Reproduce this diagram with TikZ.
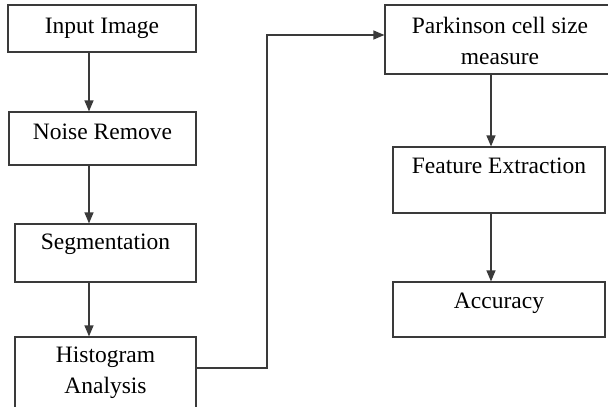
\documentclass[tikz,border=0pt]{standalone}
\usepackage{fontspec}
\setmainfont{Liberation Serif}
\usetikzlibrary{arrows.meta}
\definecolor{ln}{HTML}{3A3A3A}
\tikzset{
  box/.style={draw=ln, line width=1.2pt, rectangle, inner sep=0pt},
  lbl/.style={anchor=base, inner sep=0pt, text=black, font=\fontsize{23.5}{31}\selectfont},
  arr/.style={draw=ln, line width=1.2pt, -{Triangle[length=11pt,width=9pt]}},
}
\begin{document}
\begin{tikzpicture}[x=1pt,y=-1pt]
\useasboundingbox (0,0) rectangle (608,407);
\clip (0,0) rectangle (608,407);
\fill[white] (0,0) rectangle (608,407);
% boxes
\node[box, minimum width=188pt, minimum height=47pt] (b1) at (102,28.5) {};
\node[box, minimum width=187pt, minimum height=53pt] (b2) at (102.5,138.5) {};
\node[box, minimum width=181pt, minimum height=58pt] (b3) at (105.5,253) {};
\node[box, minimum width=181pt, minimum height=83pt] (b4) at (105.5,378.5) {};
\node[box, minimum width=235pt, minimum height=69pt] (b5) at (502.5,39.5) {};
\node[box, minimum width=212pt, minimum height=66pt] (b6) at (499,180) {};
\node[box, minimum width=212pt, minimum height=55pt] (b7) at (499,309.5) {};
% labels
\node[lbl] (t1) at (102,33) {Input Image};
\node[lbl] (t2) at (102.5,139) {Noise Remove};
\node[lbl] (t3) at (105.5,249) {Segmentation};
\node[lbl] (t4a) at (105.5,362) {Histogram};
\node[lbl] (t4b) at (105.5,393) {Analysis};
\node[lbl] (t5a) at (500,33) {Parkinson cell size};
\node[lbl] (t5b) at (500,64) {measure};
\node[lbl] (t6) at (499,173) {Feature Extraction};
\node[lbl] (t7) at (499,308) {Accuracy};
% connectors
\coordinate (L) at (89,0);
\coordinate (R) at (491,0);
\coordinate (k1) at (267,368);
\coordinate (k2) at (267,35);
\draw[arr] (b1.south -| L) -- (b2.north -| L);
\draw[arr] (b2.south -| L) -- (b3.north -| L);
\draw[arr] (b3.south -| L) -- (b4.north -| L);
\draw[arr] (b4.east |- k1) -- (k1) -- (k2) -- (b5.west |- k2);
\draw[arr] (b5.south -| R) -- (b6.north -| R);
\draw[arr] (b6.south -| R) -- (b7.north -| R);
\end{tikzpicture}
\end{document}
